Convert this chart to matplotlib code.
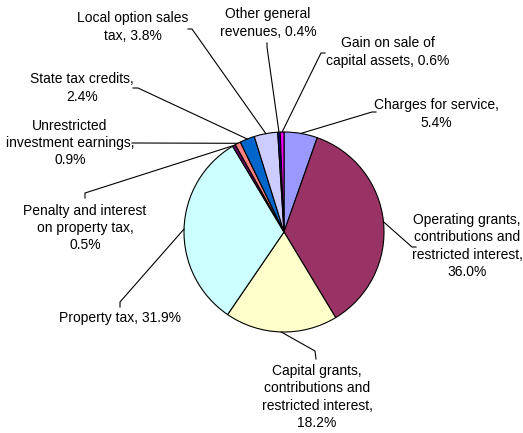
import numpy as np
import matplotlib
matplotlib.use("Agg")
import matplotlib.pyplot as plt

plt.rcParams['font.family'] = ['Liberation Sans', 'DejaVu Sans']

labels = ["Charges for service,\n5.4%",
          "Operating grants,\ncontributions and\nrestricted interest,\n36.0%",
          "Capital grants,\ncontributions and\nrestricted interest,\n18.2%",
          "Property tax, 31.9%",
          "Penalty and interest\non property tax,\n0.5%",
          "Unrestricted\ninvestment earnings,\n0.9%",
          "State tax credits,\n2.4%",
          "Local option sales\ntax, 3.8%",
          "Other general\nrevenues, 0.4%",
          "Gain on sale of\ncapital assets, 0.6%"]
shares = [5.4, 36.0, 18.2, 31.9, 0.5, 0.9, 2.4, 3.8, 0.4, 0.6]
colors = ['#9999FF', '#993366', '#FFFFCC', '#CCFFFF', '#660066',
          '#FF8080', '#0066CC', '#CCCCFF', '#000080', '#FF00FF']

# label layout in pixel coords (image y grows downwards)
text_pos = [(436, 114), (467, 246), (317, 397), (120, 318), (85, 228),
            (70, 143), (82, 88), (133, 27), (268, 23), (388, 52)]
elbows = [(372, 112), (412, 247), (315, 351), (120, 302), (85, 193),
          (137, 143), (138, 88), (192, 29), (267, 47), (321, 53)]
ticks = [(376, 112), (416, 247), (316, 359), (120, 307), (85, 198),
         (132, 143), (133, 88), (188, 29), (267, 43), (325, 53)]

W, H = 523, 433
cx, cy, r = 284, 232, 100

fig = plt.figure(figsize=(W / 100, H / 100), dpi=100)
ax = fig.add_axes([0, 0, 1, 1])
wedges, _ = ax.pie(shares, colors=colors, startangle=-90, counterclock=True,
                   center=(cx, cy), radius=r, frame=True,
                   wedgeprops=dict(edgecolor='black', linewidth=0.8))
ax.set_xlim(0, W)
ax.set_ylim(H, 0)
ax.set_aspect('equal')
ax.axis('off')

for w, lab, tp, el, tk in zip(wedges, labels, text_pos, elbows, ticks):
    ang = np.deg2rad((w.theta1 + w.theta2) / 2)
    ex, ey = cx + r * np.cos(ang), cy + r * np.sin(ang)
    ax.plot([ex, el[0], tk[0]], [ey, el[1], tk[1]], color='black', lw=0.8)
    ax.text(tp[0], tp[1], lab, ha='center', va='center', fontsize=10,
            linespacing=1.3, color='black')

fig.savefig('out.png', dpi=100)
